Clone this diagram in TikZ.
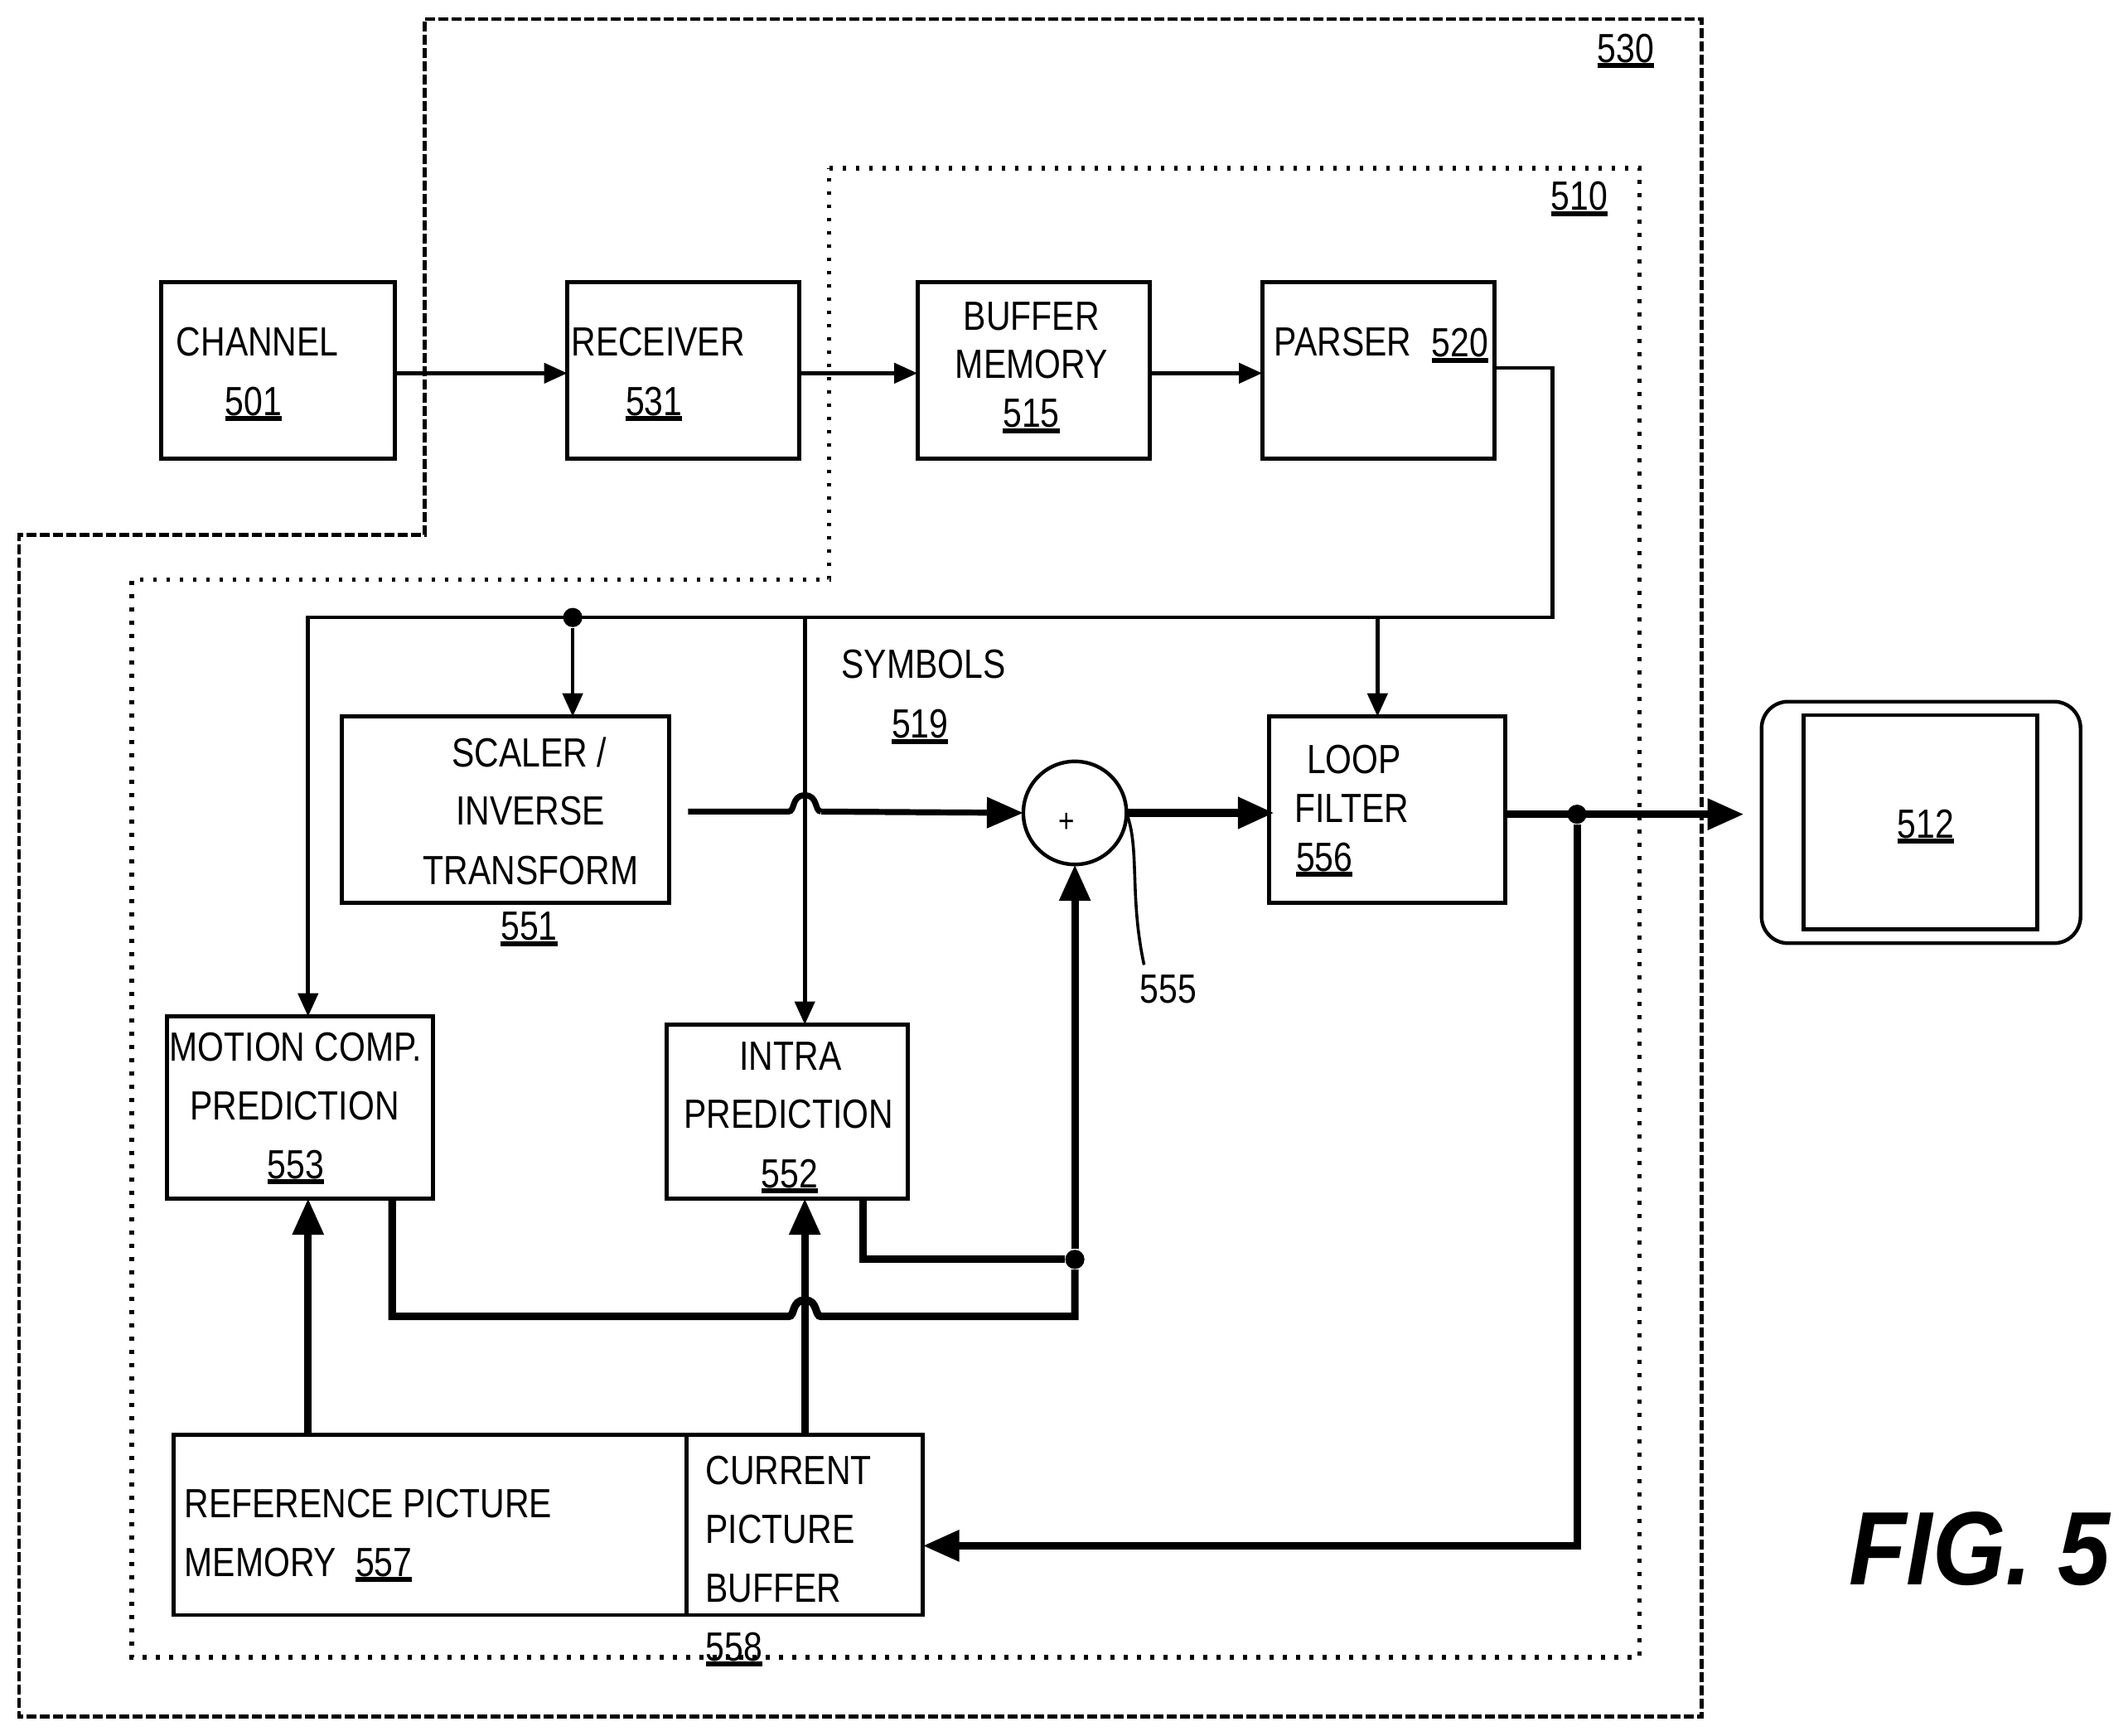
\documentclass[tikz,border=0pt]{standalone}
\usepackage{fontspec}
\setmainfont[FakeStretch=0.832]{Liberation Sans}
\newfontfamily\figfont[FakeStretch=0.9]{Liberation Sans}
\usetikzlibrary{arrows.meta,fit,calc}
\newcommand{\und}[1]{\leavevmode\setbox0=\hbox{#1}\copy0\llap{\rule[-1.7pt]{\wd0}{1.5pt}}}
\newcommand{\tx}[4]{\node[lbl] (#1) at (#2,#3) {#4};}
\newcommand{\bx}[5]{\node[boxs,fit={(#2,#3)(#4,#5)}] (#1) {};}
\tikzset{
  lbl/.style={anchor=base west,inner sep=0pt,outer sep=0pt,font=\fontsize{12.3}{14}\selectfont},
  boxs/.style={draw,line width=1.2pt,inner sep=0pt,outer sep=0pt},
  thickline/.style={line width=2.3pt},
  thinarrow/.style={line width=1.15pt,-{Triangle[length=7pt,width=6pt]}},
  thickarrow/.style={line width=2.3pt,-{Triangle[length=11pt,width=9pt]}},
  dashbox/.style={line width=1.2pt,dash pattern=on 3pt off 1pt},
  dotbox/.style={line width=1.4pt,dash pattern=on 1.2pt off 2.8pt},
  dotnode/.style={circle,fill,inner sep=0pt,minimum size=5.8pt},
}
\begin{document}
\begin{tikzpicture}[x=0.40944pt,y=-0.40944pt]
\useasboundingbox[fill=white] (0,0) rectangle (1568,1278.6);
% enclosures
\draw[dashbox] (313,14) -- (1254,14) -- (1254,1265) -- (14,1265) -- (14,394) -- (313,394) -- cycle;
\draw[dotbox] (611,124) -- (1208,124) -- (1208,1221) -- (97,1221) -- (97,427) -- (611,427) -- cycle;
% boxes
\bx{chan}{119}{208}{291}{338}
\bx{recv}{418}{208}{589}{338}
\bx{buff}{676}{208}{847}{338}
\bx{pars}{930}{208}{1101}{338}
\bx{scal}{252}{528}{493}{665}
\bx{loop}{935}{528}{1109}{665}
\bx{moti}{123}{749}{319}{883}
\bx{intr}{491}{755}{669}{883}
\bx{refm}{128}{1057}{506}{1190}
\bx{curr}{506}{1057}{680}{1190}
\node[draw,line width=1.1pt,rounded corners=8pt,inner sep=0pt,outer sep=0pt,fit={(1298,517)(1533,695)}] (disp) {};
\bx{scrn}{1329}{527}{1501}{685}
\node[circle,draw,line width=1.1pt,inner sep=0pt,outer sep=0pt,minimum size=31.1pt] (sum) at (792,599) {};
% junctions
\coordinate (pa) at (1144,271);
\coordinate (pb) at (1144,455);
\coordinate (pc) at (227,455);
\coordinate (jt) at (593,455);
\coordinate (jl) at (1015,455);
\coordinate (ha) at (507,598);
\coordinate (hb) at (581,598);
\coordinate (hc) at (605,598);
\coordinate (oa) at (1285,600);
\coordinate (mo) at (289,970);
\coordinate (mh1) at (581,970);
\coordinate (mh2) at (605,970);
\coordinate (mc) at (792,970);
\coordinate (ic) at (636,928);
\coordinate (lb) at (1162,1139);
\coordinate (ld) at (843,711);
\coordinate (lf) at (939,599);
\node[dotnode] (d1) at (422,455) {};
\node[dotnode] (d2) at (1162,600) {};
\node[dotnode] (d3) at (792,928) {};
% connectors
\draw[thinarrow] (chan.east |- 0,275) -- (recv.west |- 0,275);
\draw[thinarrow] (recv.east |- 0,275) -- (buff.west |- 0,275);
\draw[thinarrow] (buff.east |- 0,275) -- (pars.west |- 0,275);
\draw[thinarrow] (pars.east |- pa) -- (pa) -- (pb) -- (pc) -- (pc |- moti.north);
\draw[thinarrow] (d1) -- (d1 |- scal.north);
\draw[thinarrow] (jt) -- (jt |- intr.north);
\draw[thinarrow] (jl) -- (jl |- loop.north);
\draw[line width=1.8pt] (ha) -- (hb) .. controls (586,598) and (583,586) .. (593,586) .. controls (603,586) and (600,598) .. (hc);
\draw[line width=1.8pt,-{Triangle[length=11pt,width=9pt]}] (hc) -- (sum.west);
\draw[line width=2.6pt,-{Triangle[length=11pt,width=9pt]}] (sum.east) -- (lf);
\draw[thickarrow] (loop.east |- oa) -- (oa);
\draw[thickarrow] (d2) -- (lb) -- (curr.east |- lb);
\draw[thickarrow] (pc |- refm.north) -- (pc |- moti.south);
\draw[thickarrow] (jt |- curr.north) -- (jt |- intr.south);
\draw[thickline] (mo |- moti.south) -- (mo) -- (mh1) .. controls (586,970) and (583,958) .. (593,958) .. controls (603,958) and (600,970) .. (mh2) -- (mc) -- (d3);
\draw[thickarrow] (d3) -- (sum.south);
\draw[thickline] (ic |- intr.south) -- (ic) -- (d3);
\draw[line width=0.9pt] (sum.east) .. controls (840,625) and (832,660) .. (ld);
% labels
\tx{t01}{130}{262.5}{CHANNEL}
\tx{t02}{166}{306}{\und{501}}
\tx{t03}{421}{262.5}{RECEIVER}
\tx{t04}{461}{306}{\und{531}}
\tx{t05}{710}{243.5}{BUFFER}
\tx{t06}{704}{278.5}{MEMORY}
\tx{t07}{739}{315}{\und{515}}
\tx{t08}{939}{262.5}{PARSER}
\tx{t09}{1055}{263}{\und{520}}
\tx{t10}{1177}{46}{\und{530}}
\tx{t11}{1143}{155}{\und{510}}
\tx{t12}{620}{500}{SYMBOLS}
\tx{t13}{657}{544}{\und{519}}
\tx{t14}{333}{565}{SCALER /}
\tx{t15}{336}{608}{INVERSE}
\tx{t16}{312}{651.5}{TRANSFORM}
\tx{t17}{369}{693}{\und{551}}
\tx{t18}{963}{570}{LOOP}
\tx{t19}{954}{606}{FILTER}
\tx{t20}{955}{642}{\und{556}}
\tx{t21}{125}{782}{MOTION COMP.}
\tx{t22}{140}{825.5}{PREDICTION}
\tx{t23}{197}{868.5}{\und{553}}
\tx{t24}{545}{788.5}{INTRA}
\tx{t25}{504}{831.5}{PREDICTION}
\tx{t26}{561}{875}{\und{552}}
\tx{t27}{136}{1118}{REFERENCE PICTURE}
\tx{t28}{136}{1161.5}{MEMORY}
\tx{t29}{262}{1161.5}{\und{557}}
\tx{t30}{520}{1094}{CURRENT}
\tx{t31}{520}{1137}{PICTURE}
\tx{t32}{520}{1180.5}{BUFFER}
\tx{t33}{520}{1224}{\und{558}}
\tx{t34}{840}{739}{555}
\tx{t35}{1398}{617.5}{\und{512}}
\node[inner sep=0pt,font=\fontsize{10}{11}\selectfont] (plus) at (786,606) {+};
\node[anchor=base west,inner sep=0pt,font=\figfont\bfseries\itshape\fontsize{31.5}{34}\selectfont] (fig) at (1362,1168) {FIG. 5};
\end{tikzpicture}
\end{document}
